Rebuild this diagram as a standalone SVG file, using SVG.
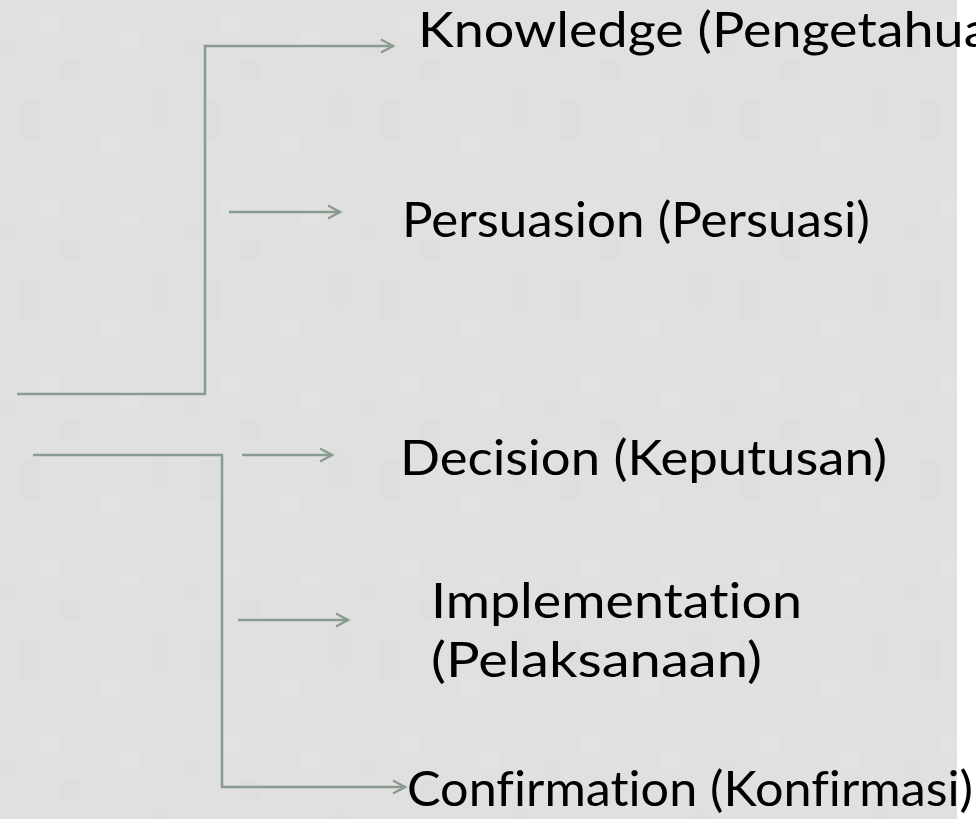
<svg xmlns="http://www.w3.org/2000/svg" width="976" height="819" viewBox="0 0 976 819">
  <defs>
    <style>
      .conn { fill: none; stroke: #8a9c8f; stroke-width: 2.5; }
      .lbl { font-family: "Lato", "Liberation Sans", sans-serif; font-size: 48px; fill: #000; font-variant-ligatures: none; font-feature-settings: "liga" 0, "clig" 0; }
    </style>
    <marker id="arr" markerWidth="16" markerHeight="16" refX="13" refY="8" orient="auto" markerUnits="userSpaceOnUse">
      <path d="M1,1.5 L13,8 L1,14.5" fill="none" stroke="#8a9c8f" stroke-width="2.5"/>
    </marker>
    <pattern id="tex" width="180" height="180" patternUnits="userSpaceOnUse">
      <rect width="180" height="180" fill="#e0e0e0"/>
      <rect x="40" y="15" width="20" height="20" fill="#e2e2e2"/>
      <rect x="60" y="60" width="20" height="20" fill="#dedede"/>
      <rect x="20" y="100" width="20" height="40" fill="#dedede"/>
      <rect x="120" y="30" width="20" height="20" fill="#e2e2e2"/>
      <rect x="100" y="135" width="20" height="20" fill="#e2e2e2"/>
      <rect x="0" y="40" width="20" height="20" fill="#dfdfdf"/>
      <rect x="150" y="90" width="20" height="40" fill="#dfdfdf"/>
    </pattern>
  </defs>
  <rect width="976" height="819" fill="#ffffff"/>
  <rect width="957" height="819" fill="url(#tex)"/>

  <g id="connectors">
    <polyline class="conn" points="17,394 205,394 205,46 393,46" marker-end="url(#arr)"/>
    <line class="conn" x1="229" y1="212" x2="340" y2="212" marker-end="url(#arr)"/>
    <polyline class="conn" points="33,455 222,455 222,787 405,787" marker-end="url(#arr)"/>
    <line class="conn" x1="242" y1="455" x2="332" y2="455" marker-end="url(#arr)"/>
    <line class="conn" x1="238" y1="620" x2="348" y2="620" marker-end="url(#arr)"/>
  </g>

  <g id="knowledge"><text class="lbl" x="418" y="47" textLength="616" lengthAdjust="spacingAndGlyphs">Knowledge (Pengetahuan)</text></g>
  <g id="persuasion"><text class="lbl" x="402" y="237" textLength="468" lengthAdjust="spacingAndGlyphs">Persuasion (Persuasi)</text></g>
  <g id="decision"><text class="lbl" x="400" y="475" textLength="487" lengthAdjust="spacingAndGlyphs">Decision (Keputusan)</text></g>
  <g id="implementation">
    <text class="lbl" x="431" y="618" textLength="371" lengthAdjust="spacingAndGlyphs">Implementation</text>
    <text class="lbl" x="431" y="677" textLength="331" lengthAdjust="spacingAndGlyphs">(Pelaksanaan)</text>
  </g>
  <g id="confirmation"><text class="lbl" x="407" y="806" textLength="566" lengthAdjust="spacingAndGlyphs">Confirmation (Konfirmasi)</text></g>
</svg>
